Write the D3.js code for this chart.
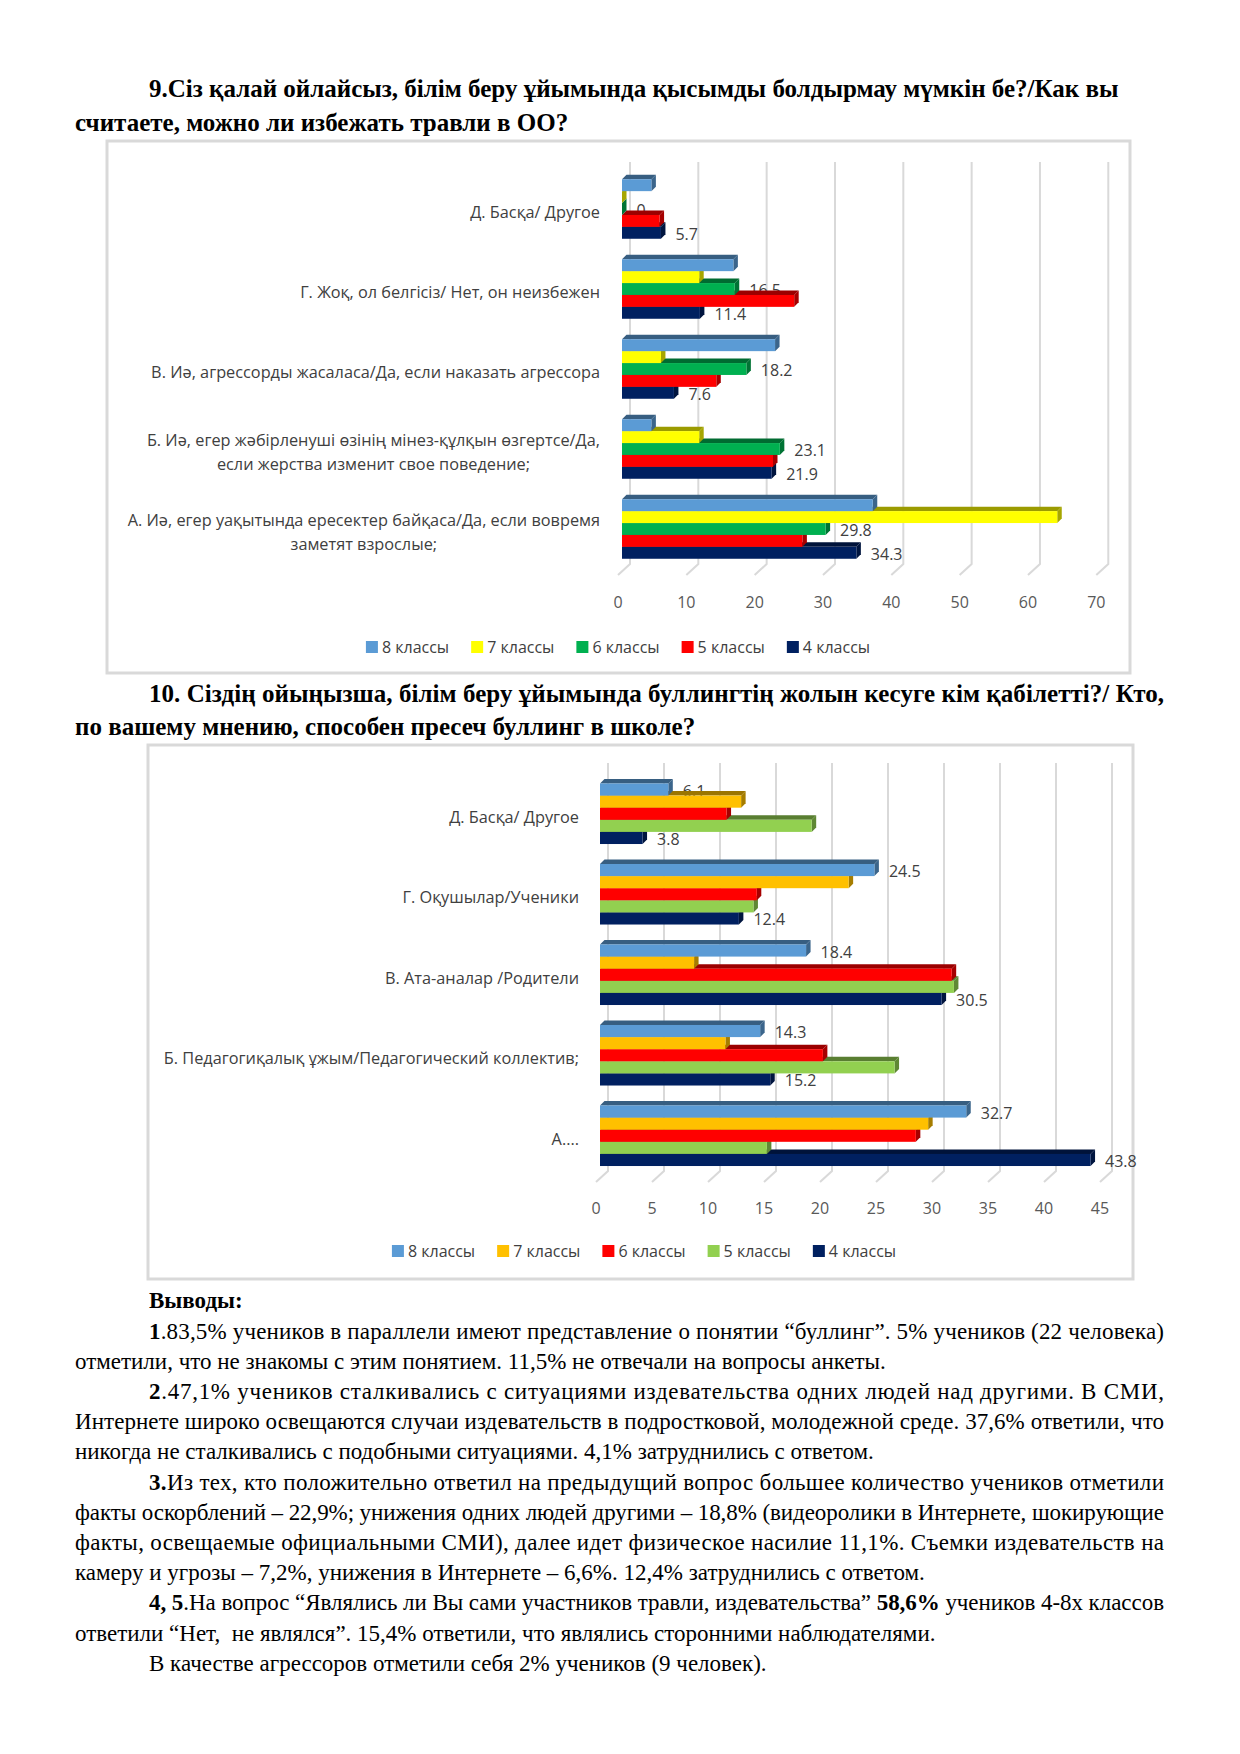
<!DOCTYPE html>
<html lang="ru">
<head>
<meta charset="UTF-8">
<title>Буллинг — результаты анкетирования</title>
<script src="https://cdn.jsdelivr.net/npm/d3@7/dist/d3.min.js"></script>
<style>
  body { margin: 0; background: #fff; }
  .chart text { font-family: "Open Sans", "Noto Sans", sans-serif; }
  .doc { font-family: "Liberation Serif", "Times New Roman", serif; fill: #000; }
</style>
</head>
<body>
<svg id="page" width="1240" height="1754"></svg>
<script>
// ---- chart 9 data ----
const cats9 = [
  "Д. Басқа/ Другое",
  "Г. Жоқ, ол белгісіз/ Нет, он неизбежен",
  "В. Иә, агрессорды жасаласа/Да, если наказать агрессора",
  "Б. Иә, егер жәбірленуші өзінің мінез-құлқын өзгертсе/Да,\nесли жерства изменит свое поведение;",
  "А. Иә, егер уақытында ересектер байқаса/Да, если вовремя\nзаметят взрослые;"
];
const series9 = ["8 классы", "7 классы", "6 классы", "5 классы", "4 классы"];
const colors9 = ["#5B9BD5", "#FFFF00", "#00B050", "#FF0000", "#002060"];
const v9_8 = [4.3, 16.3, 22.4, 4.3, 36.7];
const v9_7 = [0, 11.3, 5.7, 11.3, 63.7];
const v9_6 = [0, 16.5, 18.2, 23.1, 29.8];
const v9_5 = [5.5, 25.2, 13.8, 22.1, 26.4];
const v9_4 = [5.7, 11.4, 7.6, 21.9, 34.3];
const labeled9 = ["6 классы", "4 классы"];

// ---- chart 10 data ----
const cats10 = [
  "Д. Басқа/ Другое",
  "Г. Оқушылар/Ученики",
  "В. Ата-аналар /Родители",
  "Б. Педагогиқалық ұжым/Педагогический коллектив;",
  "А...."
];
const series10 = ["8 классы", "7 классы", "6 классы", "5 классы", "4 классы"];
const colors10 = ["#5B9BD5", "#FFC000", "#FF0000", "#92D050", "#002060"];
const v10_8 = [6.1, 24.5, 18.4, 14.3, 32.7];
const v10_7 = [12.6, 22.2, 8.4, 11.2, 29.3];
const v10_6 = [11.3, 14.0, 31.4, 19.9, 28.2];
const v10_5 = [18.9, 13.7, 31.6, 26.3, 14.9];
const v10_4 = [3.8, 12.4, 30.5, 15.2, 43.8];
const labeled10 = ["8 классы", "4 классы"];

// ---- document text ----
const title9 = [
  "9.Сіз қалай ойлайсыз, білім беру ұйымында қысымды болдырмау мүмкін бе?/Как вы",
  "считаете, можно ли избежать травли в ОО?"
];
const title10 = [
  "10. Сіздің ойыңызша, білім беру ұйымында буллингтің жолын кесуге кім қабілетті?/ Кто,",
  "по вашему мнению, способен пресеч буллинг в школе?"
];
const notes = [
  {indent: true, justify: true, parts: [["1", 1], [".83,5% учеников в параллели имеют представление о понятии “буллинг”. 5% учеников (22 человека)", 0]]},
  {indent: false, justify: false, parts: [["отметили, что не знакомы с этим понятием. 11,5% не отвечали на вопросы анкеты.", 0]]},
  {indent: true, justify: true, parts: [["2", 1], [".47,1% учеников сталкивались с ситуациями издевательства одних людей над другими. В СМИ,", 0]]},
  {indent: false, justify: true, parts: [["Интернете широко освещаются случаи издевательств в подростковой, молодежной среде. 37,6% ответили, что", 0]]},
  {indent: false, justify: false, parts: [["никогда не сталкивались с подобными ситуациями. 4,1% затруднились с ответом.", 0]]},
  {indent: true, justify: true, parts: [["3.", 1], ["Из тех, кто положительно ответил на предыдущий вопрос большее количество учеников отметили", 0]]},
  {indent: false, justify: true, parts: [["факты оскорблений – 22,9%; унижения одних людей другими – 18,8% (видеоролики в Интернете, шокирующие", 0]]},
  {indent: false, justify: true, parts: [["факты, освещаемые официальными СМИ), далее идет физическое насилие 11,1%. Съемки издевательств на", 0]]},
  {indent: false, justify: false, parts: [["камеру и угрозы – 7,2%, унижения в Интернете – 6,6%. 12,4% затруднились с ответом.", 0]]},
  {indent: true, justify: true, parts: [["4, 5", 1], [".На вопрос “Являлись ли Вы сами участников травли, издевательства” ", 0], ["58,6%", 1], [" учеников 4-8х классов", 0]]},
  {indent: false, justify: false, parts: [["ответили “Нет,  не являлся”. 15,4% ответили, что являлись сторонними наблюдателями.", 0]]},
  {indent: true, justify: false, parts: [["В качестве агрессоров отметили себя 2% учеников (9 человек).", 0]]}
];

const svg = d3.select("#page");
svg.append("rect").attr("width", 1240).attr("height", 1754).attr("fill", "#fff");

const leftM = 75, indentM = 149, rightM = 1164;

function docLine(txt, x, y, size, bold, width) {
  const t = svg.append("text").attr("class", "doc").attr("x", x).attr("y", y)
    .attr("font-size", size).attr("font-weight", bold ? "bold" : "normal")
    .attr("xml:space", "preserve").text(txt);
  if (width) t.attr("textLength", width).attr("lengthAdjust", "spacing");
  return t;
}

// titles
docLine(title9[0], indentM, 97, 25, true);
docLine(title9[1], leftM, 131, 25, true);
docLine(title10[0], indentM, 702, 25, true, rightM - indentM);
docLine(title10[1], leftM, 735, 25, true);

// conclusions
docLine("Выводы:", indentM, 1308, 23, true);
notes.forEach((ln, i) => {
  const x = ln.indent ? indentM : leftM;
  const t = svg.append("text").attr("class", "doc").attr("x", x).attr("y", 1338.5 + i * 30.2)
    .attr("font-size", 23).attr("xml:space", "preserve");
  ln.parts.forEach(p => t.append("tspan").attr("font-weight", p[1] ? "bold" : "normal").text(p[0]));
  if (ln.justify) t.attr("textLength", rightM - x).attr("lengthAdjust", "spacing");
});

function drawChart(cfg) {
  const g = svg.append("g").attr("class", "chart");
  const [fx0, fy0, fx1, fy1] = cfg.frame;
  g.append("rect").attr("x", fx0).attr("y", fy0).attr("width", fx1 - fx0).attr("height", fy1 - fy0)
    .attr("fill", "#fff").attr("stroke", "#D9D9D9").attr("stroke-width", 3);

  const x = d3.scaleLinear().domain(cfg.xDomain).range(cfg.xRange);
  const y = d3.scaleBand().domain(cfg.cats).range(cfg.yRange)
    .paddingInner(cfg.pad).paddingOuter(cfg.pad / 2);
  const ys = d3.scaleBand().domain(cfg.series).range([0, y.bandwidth()]);
  const h = ys.bandwidth();
  const d = 4.5;
  const color = d3.scaleOrdinal().domain(cfg.series).range(cfg.colors);

  const floorBack = cfg.yRange[1] - 5, floorFront = cfg.yRange[1] + 6;
  const ticks = x.ticks(cfg.tickCount);

  // gridlines with 3D floor ticks
  const grid = g.append("g").attr("stroke", "#D9D9D9").attr("stroke-width", 2).attr("fill", "none");
  ticks.forEach(t => {
    grid.append("path").attr("d", d3.line()([
      [x(t) + 8, cfg.gridTop], [x(t) + 8, floorBack], [x(t) - 4, floorFront]
    ]));
  });
  g.append("g").selectAll("text").data(ticks).join("text")
    .attr("x", t => x(t) - 4).attr("y", cfg.tickY)
    .attr("text-anchor", "middle").attr("dominant-baseline", "central")
    .attr("font-size", 16).attr("fill", "#595959").text(t => t);

  // category labels
  cfg.cats.forEach(c => {
    const lines = c.split("\n");
    const cy = y(c) + y.bandwidth() / 2 + 3;
    const lt = g.append("g").attr("font-size", 16.3).attr("fill", "#404040");
    if (lines.length === 1) {
      lt.append("text").attr("x", cfg.catX).attr("y", cy).attr("text-anchor", "end")
        .attr("dominant-baseline", "central").text(lines[0]);
    } else {
      const tmp = lines.map((l, i) => lt.append("text").attr("y", cy + (i - (lines.length - 1) / 2) * 23.5)
        .attr("text-anchor", "middle").attr("dominant-baseline", "central").text(l));
      const w = d3.max(tmp, t => t.node().getComputedTextLength());
      tmp.forEach(t => t.attr("x", cfg.catX - w / 2));
    }
  });

  const rows = [];
  cfg.cats.forEach((c, ci) => {
    cfg.series.forEach((s, si) => rows.push({cat: c, s: s, si: si, v: cfg.values[si][ci]}));
  });

  // data labels (drawn under the bars, as in the original)
  g.append("g").selectAll("text").data(rows.filter(r => cfg.labeled.includes(r.s))).join("text")
    .attr("x", r => x(r.v) + d + 10).attr("y", r => y(r.cat) + ys(r.s) + h / 2 + 1)
    .attr("dominant-baseline", "central").attr("font-size", 16).attr("fill", "#404040")
    .text(r => r.v);

  // 3D bars, bottom series first so upper bars cover lower top faces
  const bars = g.append("g");
  cfg.cats.forEach(c => {
    rows.filter(r => r.cat === c).slice().reverse().forEach(r => {
      const x0 = x(0), x1 = x(r.v), y0 = y(c) + ys(r.s);
      const base = d3.color(color(r.s));
      bars.append("path").attr("fill", base.darker(1.4))
        .attr("d", `M${x0},${y0}L${x1},${y0}L${x1 + d},${y0 - d}L${x0 + d},${y0 - d}Z`);
      bars.append("path").attr("fill", base.darker(1.2))
        .attr("d", `M${x1},${y0}L${x1 + d},${y0 - d}L${x1 + d},${y0 + h - d}L${x1},${y0 + h}Z`);
      bars.append("rect").attr("x", x0).attr("y", y0).attr("width", x1 - x0).attr("height", h)
        .attr("fill", base);
    });
  });

  // legend
  const gap = 22;
  const leg = g.append("g").attr("font-size", 16).attr("fill", "#404040");
  let lx = 0;
  cfg.series.forEach(s => {
    const it = leg.append("g");
    it.append("rect").attr("y", cfg.legendY - 6).attr("width", 12).attr("height", 12).attr("fill", color(s));
    const tx = it.append("text").attr("x", 16).attr("y", cfg.legendY).attr("dominant-baseline", "central").text(s);
    const w = 16 + tx.node().getComputedTextLength();
    it.attr("transform", `translate(${lx},0)`);
    lx += w + gap;
  });
  const total = lx - gap;
  leg.attr("transform", `translate(${cfg.legendCx - total / 2},0)`);
}

drawChart({
  frame: [107, 141, 1130, 673],
  cats: cats9, series: series9, colors: colors9,
  values: [v9_8, v9_7, v9_6, v9_5, v9_4], labeled: labeled9,
  xDomain: [0, 70], xRange: [622, 622 + 478.3], tickCount: 7,
  yRange: [169, 569], pad: 0.256, gridTop: 162, tickY: 602,
  catX: 600, legendY: 647, legendCx: 618
});

drawChart({
  frame: [148, 745, 1133, 1279],
  cats: cats10, series: series10, colors: colors10,
  values: [v10_8, v10_7, v10_6, v10_5, v10_4], labeled: labeled10,
  xDomain: [0, 45], xRange: [600, 600 + 504], tickCount: 9,
  yRange: [773.5, 1176], pad: 0.248, gridTop: 763, tickY: 1208,
  catX: 579, legendY: 1251, legendCx: 644
});
</script>
</body>
</html>
